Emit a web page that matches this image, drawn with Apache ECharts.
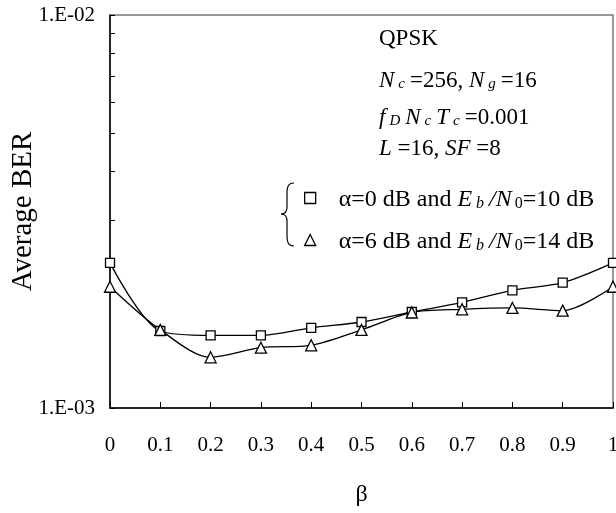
<!DOCTYPE html>
<html>
<head>
<meta charset="utf-8">
<script src="https://cdn.jsdelivr.net/npm/echarts@6/dist/echarts.min.js"></script>
<style>
    html, body { margin: 0; padding: 0; background: #fff; }
    #chart { width: 616px; height: 513px; }
</style>
</head>
<body>
<div id="chart"></div>
<script>
// beta values (x axis)
var betas = [0, 0.1, 0.2, 0.3, 0.4, 0.5, 0.6, 0.7, 0.8, 0.9, 1];

// alpha = 0 dB, Eb/N0 = 10 dB (squares)
var berAlpha0 = [2.34e-3, 1.57e-3, 1.53e-3, 1.53e-3, 1.60e-3, 1.655e-3, 1.755e-3, 1.857e-3, 1.993e-3, 2.084e-3, 2.34e-3];

// alpha = 6 dB, Eb/N0 = 14 dB (triangles)
var berAlpha6 = [2.035e-3, 1.58e-3, 1.346e-3, 1.424e-3, 1.444e-3, 1.58e-3, 1.75e-3, 1.783e-3, 1.797e-3, 1.769e-3, 2.035e-3];

var yTicks = [1e-3, 2e-3, 3e-3, 4e-3, 5e-3, 6e-3, 7e-3, 8e-3, 9e-3, 1e-2];
var yLabels = [1e-3, 1e-2];

var FONT = '"Liberation Serif", "DejaVu Serif", serif';

function pairs(xs, ys) {
    return xs.map(function (x, i) {
        return [x, ys[i]];
    });
}

// normal, italic, italic subscript, upright subscript
function makeRich(size) {
    var sub = Math.round(size * 0.65);
    return {
        n: {fontFamily: FONT, fontSize: size, lineHeight: 28, verticalAlign: 'bottom', color: '#000'},
        i: {fontFamily: FONT, fontSize: size, fontStyle: 'italic', lineHeight: 28, verticalAlign: 'bottom', color: '#000'},
        s: {fontFamily: FONT, fontSize: sub, fontStyle: 'italic', lineHeight: 15, padding: [13, 5, 0, 4], verticalAlign: 'bottom', color: '#000'},
        z: {fontFamily: FONT, fontSize: sub, lineHeight: 15, padding: [13, 0, 0, 3], verticalAlign: 'bottom', color: '#000'}
    };
}
var rich = makeRich(23);
var legendRich = makeRich(24);

var braceStyle = {fill: null, stroke: '#000', lineWidth: 1.2};

var chart = echarts.init(document.getElementById('chart'), null, {renderer: 'canvas'});

chart.setOption({
    animation: false,
    backgroundColor: '#fff',
    textStyle: {fontFamily: FONT, color: '#000'},
    grid: {
        left: 110,
        right: 3,
        top: 15,
        bottom: 105,
        outerBoundsMode: 'none',
        containLabel: false,
        show: true,
        borderColor: '#777',
        borderWidth: 1.5
    },
    xAxis: {
        type: 'value',
        min: 0,
        max: 1,
        interval: 0.1,
        name: 'β',
        nameLocation: 'middle',
        nameGap: 75,
        nameMoveOverlap: false,
        nameTextStyle: {fontFamily: FONT, fontSize: 24, color: '#000'},
        axisLine: {onZero: false, lineStyle: {color: '#000', width: 1.5}},
        axisTick: {inside: true, length: 6, lineStyle: {color: '#000'}},
        axisLabel: {margin: 27, fontFamily: FONT, fontSize: 21, color: '#000'},
        splitLine: {show: false}
    },
    yAxis: {
        type: 'log',
        logBase: 10,
        min: 1e-3,
        max: 1e-2,
        name: 'Average BER',
        nameLocation: 'middle',
        nameGap: 72,
        nameMoveOverlap: false,
        nameTextStyle: {fontFamily: FONT, fontSize: 29, color: '#000'},
        axisLine: {show: true, lineStyle: {color: '#000', width: 1.5}},
        axisTick: {inside: true, length: 5, customValues: yTicks, lineStyle: {color: '#000'}},
        axisLabel: {
            margin: 15,
            fontFamily: FONT,
            fontSize: 21,
            color: '#000',
            customValues: yLabels,
            formatter: function (v) {
                return v < 5e-3 ? '1.E-03' : '1.E-02';
            }
        },
        splitLine: {show: false}
    },
    legend: {
        left: 304,
        top: 183,
        padding: 0,
        orient: 'vertical',
        itemGap: 13,
        itemWidth: 11,
        itemHeight: 11,
        data: [
            {name: 'a0', icon: 'rect'},
            {name: 'a6', icon: 'triangle'}
        ],
        itemStyle: {color: '#fff', borderColor: '#000', borderWidth: 1.3},
        textStyle: {rich: legendRich, padding: [0, 0, 0, 18]},
        formatter: function (name) {
            if (name === 'a0') {
                return '{n|α=0 dB and }{i|E}{s|b}{i|/N}{z|0}{n|=10 dB}';
            }
            return '{n|α=6 dB and }{i|E}{s|b}{i|/N}{z|0}{n|=14 dB}';
        }
    },
    graphic: [
        {
            type: 'text',
            left: 379,
            top: 27,
            style: {text: '{n|QPSK}', rich: rich}
        },
        {
            type: 'text',
            left: 379,
            top: 64,
            style: {text: '{i|N}{s|c}{n|=256, }{i|N}{s|g}{n|=16}', rich: rich}
        },
        {
            type: 'text',
            left: 379,
            top: 101,
            style: {text: '{i|f}{s|D}{i|N}{s|c}{i|T}{s|c}{n|=0.001}', rich: rich}
        },
        {
            type: 'text',
            left: 379,
            top: 137,
            style: {text: '{i|L}{n| =16, }{i|SF}{n| =8}', rich: rich}
        },
        // curly brace grouping the two legend entries
        {
            type: 'bezierCurve',
            shape: {x1: 294, y1: 183, cpx1: 288, cpy1: 183, cpx2: 287, cpy2: 187, x2: 287, y2: 193},
            style: braceStyle
        },
        {
            type: 'line',
            shape: {x1: 287, y1: 193, x2: 287, y2: 207},
            style: braceStyle
        },
        {
            type: 'bezierCurve',
            shape: {x1: 287, y1: 207, cpx1: 287, cpy1: 212, cpx2: 284, cpy2: 214, x2: 281, y2: 214},
            style: braceStyle
        },
        {
            type: 'bezierCurve',
            shape: {x1: 281, y1: 214, cpx1: 284, cpy1: 214, cpx2: 287, cpy2: 216, x2: 287, y2: 221},
            style: braceStyle
        },
        {
            type: 'line',
            shape: {x1: 287, y1: 221, x2: 287, y2: 236},
            style: braceStyle
        },
        {
            type: 'bezierCurve',
            shape: {x1: 287, y1: 236, cpx1: 287, cpy1: 242, cpx2: 288, cpy2: 246, x2: 294, y2: 246},
            style: braceStyle
        }
    ],
    series: [
        {
            name: 'a0',
            type: 'line',
            smooth: 0.3,
            data: pairs(betas, berAlpha0),
            symbol: 'rect',
            symbolSize: 9,
            itemStyle: {color: '#fff', borderColor: '#000', borderWidth: 1.3},
            lineStyle: {color: '#000', width: 1.3}
        },
        {
            name: 'a6',
            type: 'line',
            smooth: 0.3,
            data: pairs(betas, berAlpha6),
            symbol: 'triangle',
            symbolSize: 11,
            itemStyle: {color: '#fff', borderColor: '#000', borderWidth: 1.3},
            lineStyle: {color: '#000', width: 1.3}
        }
    ]
});
</script>
</body>
</html>
